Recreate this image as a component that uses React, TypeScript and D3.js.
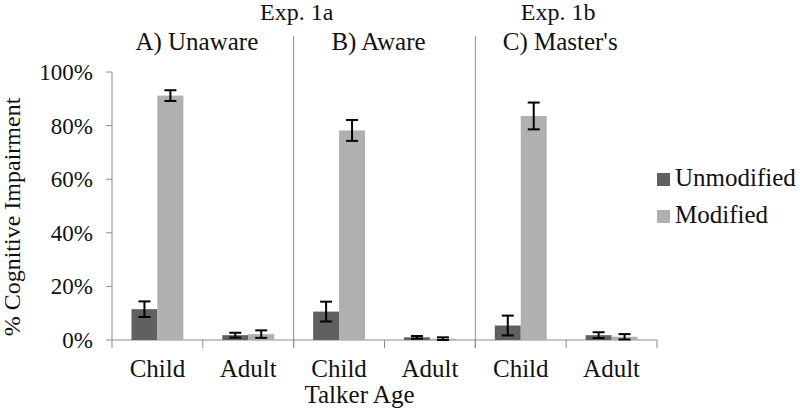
import React from "react";
import * as d3 from "d3";

const panels = ["A) Unaware", "B) Aware", "C) Master's"];
const experiments = ["Exp. 1a", "Exp. 1b"];
const experimentPanels = [[0, 1], [2]];
const ages = ["Child", "Adult"];
const seriesNames = ["Unmodified", "Modified"];
// values per panel and talker age (Child, Adult for A, B, C)
const unmodifiedValues = [11.5, 1.8, 10.6, 1.0, 5.4, 1.8];
const unmodifiedErrors = [2.9, 0.9, 3.7, 0.5, 3.7, 1.1];
const modifiedValues = [91.2, 2.2, 78.2, 0.5, 83.6, 1.2];
const modifiedErrors = [2.0, 1.4, 3.9, 0.5, 5.0, 1.0];
const yTicks = [0, 20, 40, 60, 80, 100];
const seriesColors = ["#606060", "#b0b0b0"];
const xTitle = "Talker Age";
const yTitle = "% Cognitive Impairment";

const FONT = `"Liberation Serif", "Tinos", "FreeSerif", serif`;

export default function App() {
  const W = 800, H = 410;
  const left = 112, right = 657, top = 72, bottom = 340;
  const keys = panels.flatMap((p, i) => ages.map((a) => `${i}-${a}`));
  const x = d3.scaleBand<string>().domain(keys).range([left, right]).paddingInner(0).paddingOuter(0);
  const y = d3.scaleLinear().domain([0, 100]).range([bottom, top]);
  const xs = d3.scaleBand<string>().domain(seriesNames).range([0, x.bandwidth()]).paddingInner(0).paddingOuter(0.75);
  const vals = [unmodifiedValues, modifiedValues];
  const errs = [unmodifiedErrors, modifiedErrors];
  const panelX = (i: number) => x(`${i}-${ages[0]}`)!;
  const panelEnd = (i: number) => x(`${i}-${ages[1]}`)! + x.bandwidth();
  const axisColor = "#8c8c8c";
  const capW = 12;
  const T = (props: any) => <text fontFamily={FONT} fill="#111" {...props} style={{ fontFamily: FONT }} />;

  return (
    <div style={{ fontFamily: FONT }}>
      <style>{`svg text { font-family: "Liberation Serif", "Tinos", "FreeSerif", serif !important; }`}</style>
      <svg width={W} height={H} style={{ position: "absolute", left: 0, top: 0, background: "#fff" }}>
        {yTicks.map((t) => (
          <g key={t}>
            <line x1={left - 6} x2={left} y1={y(t)} y2={y(t)} stroke={axisColor} strokeWidth={1} />
            <T x={93} y={y(t)} dy="0.35em" textAnchor="end" fontSize={23}>{t}%</T>
          </g>
        ))}
        <line x1={left} x2={left} y1={top} y2={bottom + 8} stroke={axisColor} strokeWidth={1} />
        <line x1={left} x2={right} y1={bottom} y2={bottom} stroke={axisColor} strokeWidth={1} />
        {keys.map((k) => (
          <line key={k} x1={x(k)! + x.bandwidth()} x2={x(k)! + x.bandwidth()} y1={bottom} y2={bottom + 8} stroke={axisColor} strokeWidth={1} />
        ))}
        {panels.slice(1).map((p, i) => (
          <line key={p} x1={panelX(i + 1)} x2={panelX(i + 1)} y1={36} y2={bottom + 8} stroke={axisColor} strokeWidth={1} />
        ))}
        {keys.map((k, ci) =>
          seriesNames.map((s, si) => (
            <rect key={k + s} x={x(k)! + xs(s)!} width={xs.bandwidth()} y={y(vals[si][ci])} height={y(0) - y(vals[si][ci])} fill={seriesColors[si]} />
          ))
        )}
        {keys.map((k, ci) =>
          seriesNames.map((s, si) => {
            const cx = x(k)! + xs(s)! + xs.bandwidth() / 2;
            const hi = y(vals[si][ci] + errs[si][ci]);
            const lo = y(Math.max(0, vals[si][ci] - errs[si][ci]));
            return (
              <g key={"e" + k + s} stroke="#000" strokeWidth={2}>
                <line x1={cx} x2={cx} y1={hi} y2={lo} />
                <line x1={cx - capW / 2} x2={cx + capW / 2} y1={hi} y2={hi} />
                <line x1={cx - capW / 2} x2={cx + capW / 2} y1={lo} y2={lo} />
              </g>
            );
          })
        )}
        {keys.map((k, ci) => (
          <T key={"l" + k} x={x(k)! + x.bandwidth() / 2} y={377} textAnchor="middle" fontSize={25}>{ages[ci % 2]}</T>
        ))}
        <T x={(panelX(1) + panelEnd(1)) / 2 - 25} y={403} textAnchor="middle" fontSize={25}>{xTitle}</T>
        <T transform={`translate(20, 217) rotate(-90)`} textAnchor="middle" fontSize={24}>{yTitle}</T>
        {panels.map((p, i) => (
          <T key={p} x={(panelX(i) + panelEnd(i)) / 2 - 6} y={50} textAnchor="middle" fontSize={25}>{p}</T>
        ))}
        {experiments.map((e, i) => {
          const ps = experimentPanels[i];
          const cx = ps.length > 1 ? panelX(ps[1]) + 3 : (panelX(ps[0]) + panelEnd(ps[0])) / 2 - 8;
          return <T key={e} x={cx} y={20} textAnchor="middle" fontSize={24}>{e}</T>;
        })}
        {seriesNames.map((s, i) => (
          <g key={"lg" + s}>
            <rect x={657} y={173 + i * 37} width={13} height={13} fill={seriesColors[i]} />
            <T x={675} y={186 + i * 37} fontSize={25}>{s}</T>
          </g>
        ))}
      </svg>
    </div>
  );
}
